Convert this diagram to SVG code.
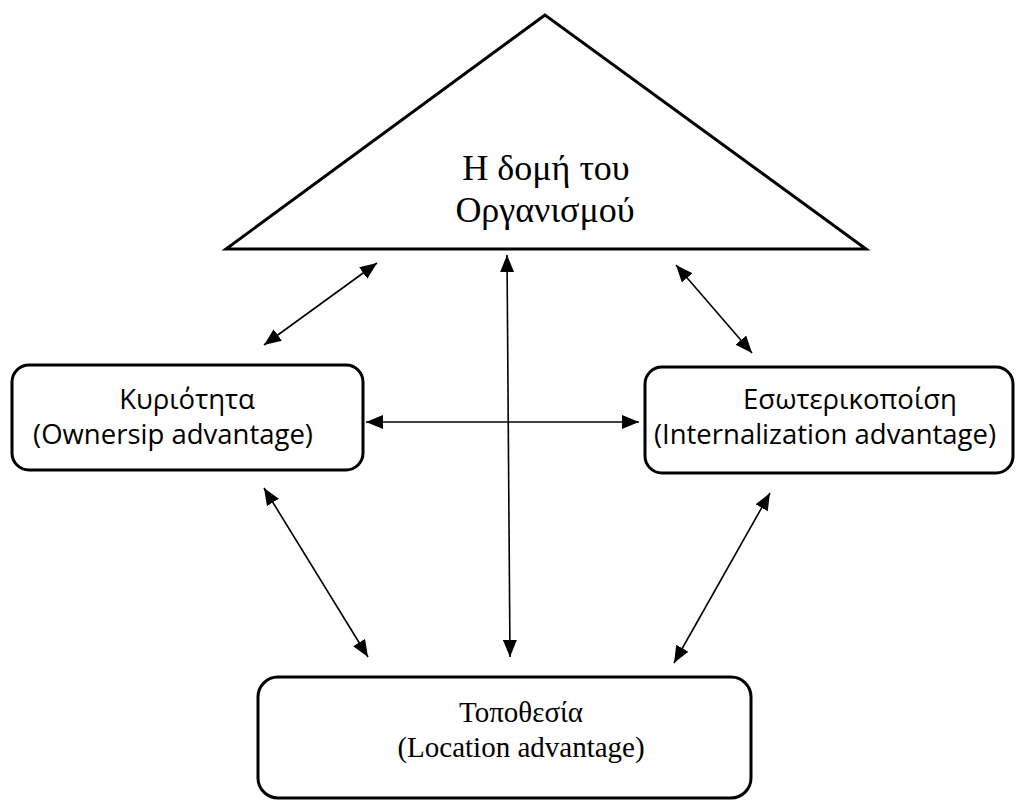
<svg xmlns="http://www.w3.org/2000/svg" width="1027" height="802" viewBox="0 0 1027 802">
<style>
.shape{fill:#fff;stroke:#000;stroke-width:3;stroke-linejoin:miter}
.box{fill:#fff;stroke:#000;stroke-width:3}
.conn{stroke:#000;stroke-width:1.6;fill:none;marker-start:url(#ah);marker-end:url(#ah)}
.serif{font-family:"Liberation Serif","Times New Roman",serif;fill:#000;text-anchor:middle}
.sans{font-family:"Open Sans","Noto Sans",sans-serif;fill:#000;text-anchor:middle}
</style>
<defs>
<marker id="ah" markerUnits="userSpaceOnUse" markerWidth="17" markerHeight="14" refX="17" refY="7" orient="auto-start-reverse">
<path d="M0,0 L17,7 L0,14 z" fill="#000"/>
</marker>
</defs>
<rect width="1027" height="802" fill="#fff"/>
<g id="node-structure">
<polygon class="shape" points="545,15 226,249 866,249"/>
<text class="serif" x="546" y="180" font-size="36">Η δομή του</text>
<text class="serif" x="545" y="222" font-size="36">Οργανισμού</text>
</g>
<g id="node-ownership">
<rect class="box" x="12" y="365" width="351" height="105" rx="17"/>
<text class="sans" x="187" y="409" font-size="27.5">Κυριότητα</text>
<text class="sans" x="173" y="444" font-size="27.5">(Ownersip advantage)</text>
</g>
<g id="node-internalization">
<rect class="box" x="645" y="367" width="368" height="106" rx="17"/>
<text class="sans" x="850" y="409" font-size="27.5">Εσωτερικοποίση</text>
<text class="sans" x="825" y="444" font-size="27.5">(Internalization advantage)</text>
</g>
<g id="node-location">
<rect class="box" x="258" y="677" width="493" height="121" rx="20"/>
<text class="serif" x="521" y="722" font-size="29">Τοποθεσία</text>
<text class="serif" x="521" y="757" font-size="29">(Location advantage)</text>
</g>
<g id="connectors">
<line class="conn" x1="377" y1="263" x2="264" y2="345"/>
<line class="conn" x1="507" y1="255" x2="510" y2="657"/>
<line class="conn" x1="366" y1="422" x2="639" y2="422"/>
<line class="conn" x1="676" y1="265" x2="752" y2="353"/>
<line class="conn" x1="264" y1="488" x2="368" y2="657"/>
<line class="conn" x1="770" y1="493" x2="674" y2="663"/>
</g>
</svg>
